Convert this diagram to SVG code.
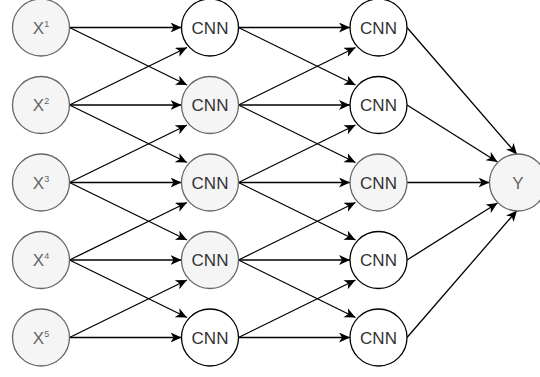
<svg xmlns="http://www.w3.org/2000/svg" width="540" height="377" viewBox="0 0 540 377">
<style>
.g{fill:#f5f5f5;stroke:#666666;stroke-width:1.3}
.w{fill:#ffffff;stroke:#000000;stroke-width:1.3}
.t{font-family:"Liberation Sans",Arial,sans-serif;font-size:17px;text-anchor:middle;fill:#333333}
.tl{fill:#666666}
.e{fill:none;stroke:#000000;stroke-width:1.3;marker-end:url(#a)}
</style>
<defs>
<marker id="a" markerUnits="userSpaceOnUse" markerWidth="13" markerHeight="11" refX="11" refY="5" orient="auto" viewBox="0 0 13 11">
<path d="M0,0 L11,5 L0,10 L3,5 Z" fill="#000000"/>
</marker>
</defs>
<g id="connectors">
<line class="e" x1="69.5" y1="27.5" x2="181.5" y2="27.5"/>
<line class="e" x1="69.5" y1="27.5" x2="187" y2="85"/>
<line class="e" x1="69.5" y1="105" x2="187" y2="47.5"/>
<line class="e" x1="69.5" y1="105" x2="181.5" y2="105"/>
<line class="e" x1="69.5" y1="105" x2="187" y2="162.5"/>
<line class="e" x1="69.5" y1="182.5" x2="187" y2="125"/>
<line class="e" x1="69.5" y1="182.5" x2="181.5" y2="182.5"/>
<line class="e" x1="69.5" y1="182.5" x2="187" y2="240"/>
<line class="e" x1="69.5" y1="260" x2="187" y2="202.5"/>
<line class="e" x1="69.5" y1="260" x2="181.5" y2="260"/>
<line class="e" x1="69.5" y1="260" x2="187" y2="317.5"/>
<line class="e" x1="69.5" y1="337.5" x2="187" y2="280"/>
<line class="e" x1="69.5" y1="337.5" x2="181.5" y2="337.5"/>

<line class="e" x1="238.5" y1="27.5" x2="350" y2="27.5"/>
<line class="e" x1="238.5" y1="27.5" x2="355.5" y2="85"/>
<line class="e" x1="238.5" y1="105" x2="355.5" y2="47.5"/>
<line class="e" x1="238.5" y1="105" x2="350" y2="105"/>
<line class="e" x1="238.5" y1="105" x2="355.5" y2="162.5"/>
<line class="e" x1="238.5" y1="182.5" x2="355.5" y2="125"/>
<line class="e" x1="238.5" y1="182.5" x2="350" y2="182.5"/>
<line class="e" x1="238.5" y1="182.5" x2="355.5" y2="240"/>
<line class="e" x1="238.5" y1="260" x2="355.5" y2="202.5"/>
<line class="e" x1="238.5" y1="260" x2="350" y2="260"/>
<line class="e" x1="238.5" y1="260" x2="355.5" y2="317.5"/>
<line class="e" x1="238.5" y1="337.5" x2="355.5" y2="280"/>
<line class="e" x1="238.5" y1="337.5" x2="350" y2="337.5"/>

<line class="e" x1="407" y1="27.5" x2="517" y2="154.5"/>
<line class="e" x1="407" y1="105" x2="497.5" y2="162"/>
<line class="e" x1="407" y1="182.5" x2="489.5" y2="182.5"/>
<line class="e" x1="407" y1="260" x2="497.5" y2="203"/>
<line class="e" x1="407" y1="337.5" x2="517" y2="210.5"/>
</g>
<g id="x1"><circle class="g" cx="41" cy="27.5" r="28.5"/><text class="t tl" x="41" y="33.5">X<tspan font-size="9" dy="-7">1</tspan></text></g>
<g id="x2"><circle class="g" cx="41" cy="105" r="28.5"/><text class="t tl" x="41" y="111">X<tspan font-size="9" dy="-7">2</tspan></text></g>
<g id="x3"><circle class="g" cx="41" cy="182.5" r="28.5"/><text class="t tl" x="41" y="188.5">X<tspan font-size="9" dy="-7">3</tspan></text></g>
<g id="x4"><circle class="g" cx="41" cy="260" r="28.5"/><text class="t tl" x="41" y="266">X<tspan font-size="9" dy="-7">4</tspan></text></g>
<g id="x5"><circle class="g" cx="41" cy="337.5" r="28.5"/><text class="t tl" x="41" y="343.5">X<tspan font-size="9" dy="-7">5</tspan></text></g>

<g id="cnn1-1"><circle class="w" cx="210" cy="27.5" r="28.5"/><text class="t" x="210" y="33.5">CNN</text></g>
<g id="cnn1-2"><circle class="g" cx="210" cy="105" r="28.5"/><text class="t" x="210" y="111">CNN</text></g>
<g id="cnn1-3"><circle class="g" cx="210" cy="182.5" r="28.5"/><text class="t" x="210" y="188.5">CNN</text></g>
<g id="cnn1-4"><circle class="g" cx="210" cy="260" r="28.5"/><text class="t" x="210" y="266">CNN</text></g>
<g id="cnn1-5"><circle class="w" cx="210" cy="337.5" r="28.5"/><text class="t" x="210" y="343.5">CNN</text></g>

<g id="cnn2-1"><circle class="w" cx="378.5" cy="27.5" r="28.5"/><text class="t" x="378.5" y="33.5">CNN</text></g>
<g id="cnn2-2"><circle class="w" cx="378.5" cy="105" r="28.5"/><text class="t" x="378.5" y="111">CNN</text></g>
<g id="cnn2-3"><circle class="g" cx="378.5" cy="182.5" r="28.5"/><text class="t" x="378.5" y="188.5">CNN</text></g>
<g id="cnn2-4"><circle class="w" cx="378.5" cy="260" r="28.5"/><text class="t" x="378.5" y="266">CNN</text></g>
<g id="cnn2-5"><circle class="w" cx="378.5" cy="337.5" r="28.5"/><text class="t" x="378.5" y="343.5">CNN</text></g>

<g id="y"><circle class="g" cx="518" cy="182.5" r="28.5"/><text class="t tl" x="518" y="188.5">Y</text></g>
</svg>
